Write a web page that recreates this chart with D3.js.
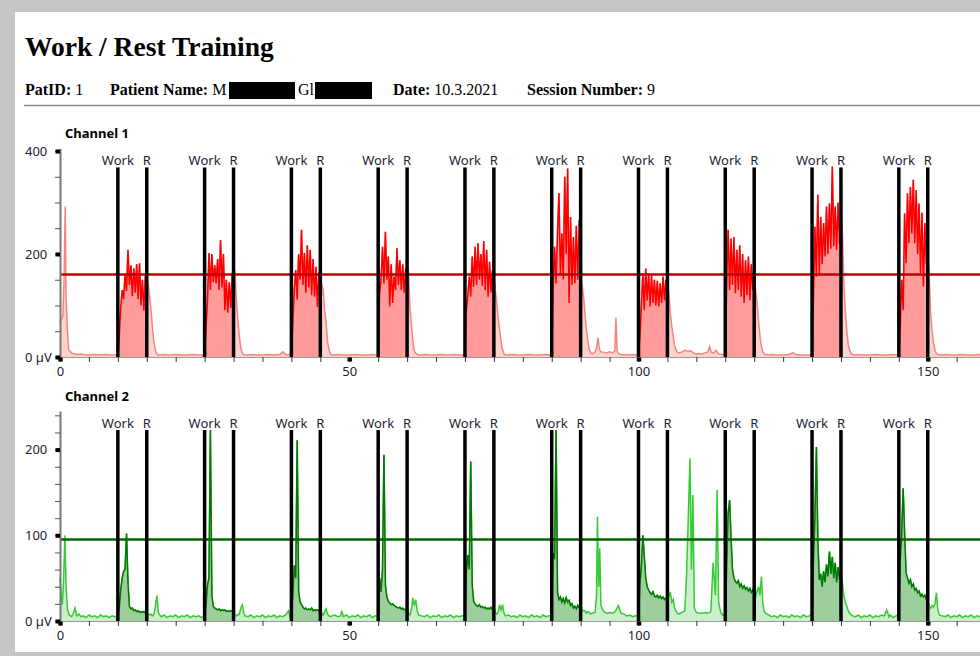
<!DOCTYPE html>
<html>
<head>
<meta charset="utf-8">
<script src="https://cdn.jsdelivr.net/npm/d3@7"></script>
<style>
body { margin: 0; background: #c6c6c6; overflow: hidden; }
svg { display: block; }
.serif { font-family: "Liberation Serif", "Times New Roman", serif; fill: #000; }
.sans { font-family: "Segoe UI", "Noto Sans", sans-serif; }
</style>
</head>
<body>
<script>
// session markers (seconds)
const workStarts = [10, 25, 40, 55, 70, 85, 100, 115, 130, 145];
const restStarts = [15, 30, 45, 60, 75, 90, 105, 120, 135, 150];
const blockStep = 0.25; // seconds between samples of a block, block starts at its Work marker

const ch1Threshold = 160;
const ch2Threshold = 95;

const xLabels = [0, 50, 100, 150];
const ch1Labels = [0, 200, 400];
const ch2Labels = [0, 100, 200];

// Channel 1 (µV) – one array per work block
const ch1Blocks = [
  [5,40,95,130,112,162,128,208,140,178,118,172,125,180,112,182,100,150,90,158,150,142,118,88,55,28,12,6,4],
  [5,59,110,202,130,200,145,178,143,190,130,227,135,200,91,150,86,145,95,160,173,165,111,70,40,18,8,5,4],
  [5,66,130,169,111,200,150,247,140,202,125,217,135,208,120,190,117,175,97,165,156,140,130,90,66,30,14,6,4],
  [5,124,150,214,143,243,150,195,98,180,105,156,130,211,140,188,130,180,125,170,175,165,97,60,33,12,7,5,4],
  [5,91,120,156,117,195,136,214,140,221,150,200,138,225,130,208,117,185,125,169,156,130,105,75,52,30,14,6,4],
  [5,130,214,143,240,318,160,240,150,350,200,366,105,272,140,233,143,255,150,266,156,140,117,85,52,30,14,8,6],
  [5,40,98,163,91,172,110,163,98,158,105,150,100,148,98,143,105,156,110,150,143,125,85,60,40,22,13,9,8],
  [5,143,247,130,230,140,233,124,208,130,217,117,200,105,188,120,195,110,180,130,156,130,105,70,40,20,10,6,5],
  [5,117,253,156,315,160,272,180,260,195,292,200,298,210,370,215,292,208,300,220,272,240,143,90,52,25,13,7,5],
  [5,59,150,91,279,182,318,221,330,240,344,221,324,200,298,163,280,137,260,180,201,156,85,50,27,12,7,5,4]
];
// Channel 1 between blocks: [seconds, µV]
const ch1Rest = [
  [0,66],[0.25,74],[0.5,80],[0.7,150],[0.9,292],[1.05,120],[1.25,59],[1.5,14],[2,8],[2.5,6],[3,5],[3.5,6],[4,5],[5,4],[6,5],[7,4],[8,5],[9,4],[9.5,4],
  [17.5,4],[18,5],[19,4],[20,5],[21,4],[22,4],[23,5],[24,4],[24.5,4],
  [32.5,4],[33,5],[34,4],[35,4],[36,5],[37,4],[38,5],[38.5,10],[39,5],[39.5,4],
  [47.5,4],[48,5],[49,4],[50,4],[51,5],[52,4],[53,4],[54,5],[54.5,4],
  [62.5,4],[63,5],[64,4],[65,4],[66,5],[67,4],[68,5],[69,4],[69.5,4],
  [77.5,4],[78,5],[79,4],[80,4],[81,5],[82,4],[83,4],[84,5],[84.5,4],
  [92.5,10],[92.75,18],[93,37],[93.25,14],[93.5,10],[94,9],[94.5,8],[95,10],[95.5,8],[95.9,12],[96.1,76],[96.3,12],[96.5,7],[97,5],[98,4],[99,5],[99.5,4],
  [107.5,10],[108,13],[108.5,11],[109,12],[109.5,8],[110,6],[110.5,7],[111,6],[111.5,8],[112,10],[112.3,20],[112.6,9],[113,8],[113.4,13],[113.8,6],[114.5,5],
  [122.5,4],[123,5],[124,4],[125,4],[126,5],[126.7,8],[127.2,5],[128,4],[129,4],[129.5,4],
  [137.5,4],[138,5],[139,4],[140,4],[141,5],[142,4],[143,4],[144,5],[144.5,4],
  [152.5,4],[153,5],[154,4],[155,4],[156,5],[157,4],[158,4],[159,5],[160,4],[165,4],[170,4]
];

// Channel 2 (µV)
const ch2Blocks = [
  [6,15,36,50,58,60,102,45,17,14,15,12,13,11,12,10,11,10,11,9,10,8,7,8,6,8,18,30,10],
  [6,20,42,50,223,30,17,15,14,13,14,12,13,12,13,11,12,11,12,11,11,8,6,7,8,15,19,10,6],
  [6,30,65,50,211,34,22,19,16,14,15,13,14,13,15,12,13,12,13,12,12,9,7,11,14,8,6,5,6],
  [6,50,34,60,194,42,28,23,21,19,20,18,17,16,15,16,14,15,13,14,13,9,7,14,27,18,25,12,7],
  [6,58,77,60,186,42,23,20,18,17,19,16,17,15,16,14,15,14,16,13,14,10,8,11,19,13,19,9,6],
  [6,79,72,223,33,25,28,22,26,21,27,22,24,18,20,15,17,14,18,15,19,13,12,12,9,11,10,8,9],
  [6,44,63,100,75,50,40,36,33,31,34,29,28,30,27,29,26,28,25,27,25,28,34,22,25,15,11,9,8],
  [8,63,126,141,95,60,50,46,44,47,40,43,38,41,37,39,35,38,33,36,32,28,35,40,30,52,20,11,9],
  [8,71,122,203,94,48,55,40,58,45,66,52,81,55,75,50,68,45,63,48,55,45,30,22,17,12,9,7,6],
  [8,71,102,155,102,56,50,44,48,40,43,36,38,33,35,29,31,28,30,25,24,17,15,18,16,20,33,13,7]
];
const ch2Rest = [
  [0,50],[0.2,30],[0.4,19],[0.6,45],[0.85,100],[1.05,40],[1.3,13],[1.6,7],[2,5],[2.3,9],[2.6,15],[2.9,6],[3.3,8],[3.6,5],[4,6],[4.5,4],[5,7],[5.5,5],[6,6],[6.5,4],[7,7],[7.5,5],[8,6],[8.5,4],[9,6],[9.5,5],
  [17.25,7],[17.5,5],[18,7],[18.5,4],[19,6],[19.5,5],[20,7],[20.5,4],[21,6],[21.5,5],[22,7],[22.5,4],[23,6],[23.5,5],[24,6],[24.5,4],
  [32.5,5],[33,7],[33.5,4],[34,6],[34.5,5],[35,7],[35.5,4],[36,6],[36.5,5],[37,7],[37.5,4],[38,6],[38.5,5],[39,7],[39.5,12],[39.75,5],
  [47.5,7],[48,5],[48.5,6],[48.7,12],[49,5],[49.5,7],[50,4],[50.5,6],[51,5],[51.5,7],[52,4],[52.5,6],[53,5],[53.5,7],[54,4],[54.5,6],
  [62.5,6],[63,5],[63.5,7],[64,4],[64.5,6],[65,5],[65.5,7],[66,4],[66.5,6],[67,5],[67.5,7],[68,4],[68.5,6],[69,5],[69.5,6],
  [77.5,7],[78,5],[78.5,6],[79,4],[79.5,7],[80,5],[80.5,6],[81,4],[81.5,7],[82,5],[82.5,6],[83,4],[83.5,7],[84,5],[84.5,6],
  [92.5,10],[92.75,30],[92.9,122],[93.1,40],[93.3,85],[93.5,18],[94,11],[94.5,9],[95,10],[95.5,9],[96,11],[96.5,18],[97,9],[97.5,8],[98,6],[98.5,7],[99,5],[99.5,6],
  [107.5,10],[108,12],[108.3,52],[108.6,120],[108.9,190],[109.15,60],[109.4,147],[109.65,15],[110,10],[110.5,9],[111,9],[111.5,10],[112,9],[112.5,11],[112.9,68],[113.3,30],[113.6,153],[113.85,22],[114.2,10],[114.6,7],
  [122.5,7],[123,5],[123.5,6],[124,4],[124.5,7],[125,5],[125.5,6],[126,4],[126.5,7],[127,5],[127.5,6],[128,4],[128.5,7],[129,5],[129.5,6],
  [137.5,5],[138,7],[138.5,4],[139,6],[139.5,5],[140,7],[140.5,4],[141,6],[141.5,5],[142,7],[142.5,6],[142.9,13],[143.3,5],[143.5,7],[144,4],[144.5,6],
  [152.5,6],[153,5],[153.5,7],[154,4],[154.5,6],[155,5],[155.5,7],[156,4],[156.5,6],[157,5],[157.5,7],[158,4],[158.5,6],[159,5],[159.5,7],[160,5],[165,5],[170,5]
];

let width = 980, height = 656;
let svg = d3.select("body").append("svg").attr("width", width).attr("height", height);

// page
svg.append("rect").attr("x", 15).attr("y", 12).attr("width", width).attr("height", 640).attr("fill", "#fff");

svg.append("text").attr("class", "serif").attr("x", 25).attr("y", 56)
  .attr("font-size", 27.5).attr("font-weight", "bold").text("Work / Rest Training");

let info = (x, label, value) => {
  let t = svg.append("text").attr("class", "serif").attr("x", x).attr("y", 95).attr("font-size", 16);
  t.append("tspan").attr("font-weight", "bold").text(label);
  t.append("tspan").text(value);
};
info(25, "PatID:", " 1");
info(110, "Patient Name:", " M");
info(298, "", "Gl");
info(393, "Date:", " 10.3.2021");
info(527, "Session Number:", " 9");
svg.append("rect").attr("x", 229).attr("y", 82).attr("width", 66).attr("height", 17).attr("fill", "#000");
svg.append("rect").attr("x", 315).attr("y", 82).attr("width", 57).attr("height", 17).attr("fill", "#000");
svg.append("line").attr("x1", 24).attr("x2", width).attr("y1", 105.5).attr("y2", 105.5)
  .attr("stroke", "#8a8a8a").attr("stroke-width", 1.5);

let x = d3.scaleLinear().domain([0, 170]).range([60, 60 + 170 * 5.785]);

let buildSeries = (blocks, rest) => {
  let pts = rest.map(([t, v]) => ({t, v}));
  blocks.forEach((b, k) => b.forEach((v, i) => pts.push({t: workStarts[k] + i * blockStep, v})));
  return pts.sort((a, b) => a.t - b.t);
};

let drawChannel = (o) => {
  let y = d3.scaleLinear().domain([0, o.yMax]).range([o.y0, o.y0 - o.yMax * o.pxPerUnit]);
  let top = y(o.yMax);
  let g = svg.append("g");
  let data = buildSeries(o.blocks, o.rest);

  let clipId = "work" + o.id;
  let clip = svg.append("clipPath").attr("id", clipId);
  workStarts.forEach((w, i) => {
    clip.append("rect").attr("x", x(w)).attr("y", top).attr("width", x(restStarts[i]) - x(w)).attr("height", o.y0 - top);
  });

  let area = d3.area().x(d => x(d.t)).y0(y(0)).y1(d => y(d.v));
  let line = d3.line().x(d => x(d.t)).y(d => y(d.v));

  g.append("path").datum(data).attr("d", area).attr("fill", o.lightFill);
  g.append("path").datum(data).attr("d", line).attr("fill", "none").attr("stroke", o.lightLine).attr("stroke-width", 1.5);
  let wg = g.append("g").attr("clip-path", "url(#" + clipId + ")");
  wg.append("path").datum(data).attr("d", area).attr("fill", o.workFill);
  wg.append("path").datum(data).attr("d", line).attr("fill", "none").attr("stroke", o.workLine).attr("stroke-width", 1.5);

  // threshold
  g.append("line").attr("x1", x(0)).attr("x2", x.range()[1]).attr("y1", y(o.threshold)).attr("y2", y(o.threshold))
    .attr("stroke", o.thresholdColor).attr("stroke-width", 2.5);

  // work / rest markers
  let markTop = top + 19;
  let marks = workStarts.map(t => ({t, label: "Work"})).concat(restStarts.map(t => ({t, label: "R"})));
  g.selectAll(".mark").data(marks).enter().append("line")
    .attr("x1", d => x(d.t)).attr("x2", d => x(d.t)).attr("y1", markTop).attr("y2", y(0))
    .attr("stroke", "#000").attr("stroke-width", 3.5);
  g.selectAll(".marklabel").data(marks).enter().append("text").attr("class", "sans")
    .attr("x", d => x(d.t)).attr("y", markTop - 2).attr("text-anchor", "middle")
    .attr("font-size", 13).attr("fill", "#1b2433").text(d => d.label);

  // axes
  let yAxis = g.append("g").attr("transform", "translate(60,0)")
    .call(d3.axisLeft(y).tickValues(d3.range(0, o.yMax + 1, o.yMinor)).tickSize(5).tickSizeOuter(0)
      .tickFormat(d => o.labels.includes(d) ? (d === 0 ? "0 µV" : d) : ""));
  yAxis.select(".domain").attr("stroke", "#777").attr("stroke-width", 2);
  yAxis.selectAll(".tick line").attr("stroke", "#555");
  yAxis.selectAll(".tick text").attr("class", "sans").attr("x", -35).attr("text-anchor", "start")
    .attr("font-size", 13).attr("fill", "#1b2433");
  yAxis.selectAll(".tick").filter(d => o.labels.includes(d)).append("rect")
    .attr("x", -4.5).attr("y", -2).attr("width", 4.5).attr("height", 4).attr("fill", "#000");

  let xAxis = g.append("g").attr("transform", "translate(0," + o.y0 + ")")
    .call(d3.axisBottom(x).tickValues(d3.range(0, 171, 5)).tickSize(5).tickSizeOuter(0)
      .tickFormat(d => xLabels.includes(d) ? d : ""));
  xAxis.select(".domain").attr("stroke", "#999").attr("stroke-width", 1);
  xAxis.selectAll(".tick line").attr("stroke", "#333");
  xAxis.selectAll(".tick text").attr("class", "sans").attr("y", 10).attr("font-size", 13).attr("fill", "#1b2433");
  xAxis.selectAll(".tick").filter(d => xLabels.includes(d)).append("rect")
    .attr("x", -2.25).attr("y", 0.5).attr("width", 4.5).attr("height", 4).attr("fill", "#000");

  g.append("text").attr("class", "sans").attr("x", 65).attr("y", top - 10)
    .attr("font-size", 13).attr("font-weight", "bold").attr("fill", "#000").text(o.title);
};

drawChannel({
  id: 1, title: "Channel 1", y0: 357, yMax: 405, pxPerUnit: 0.515, yMinor: 50, labels: ch1Labels,
  blocks: ch1Blocks, rest: ch1Rest, threshold: ch1Threshold,
  lightFill: "#fdd3d0", lightLine: "#f2867e", workFill: "#ff9b9b", workLine: "#ff0000", thresholdColor: "#c00000"
});
drawChannel({
  id: 2, title: "Channel 2", y0: 621, yMax: 245, pxPerUnit: 0.857, yMinor: 20, labels: ch2Labels,
  blocks: ch2Blocks, rest: ch2Rest, threshold: ch2Threshold,
  lightFill: "#cdeecd", lightLine: "#33cc33", workFill: "#9dcf9d", workLine: "#007a00", thresholdColor: "#006400"
});
</script>
</body>
</html>
